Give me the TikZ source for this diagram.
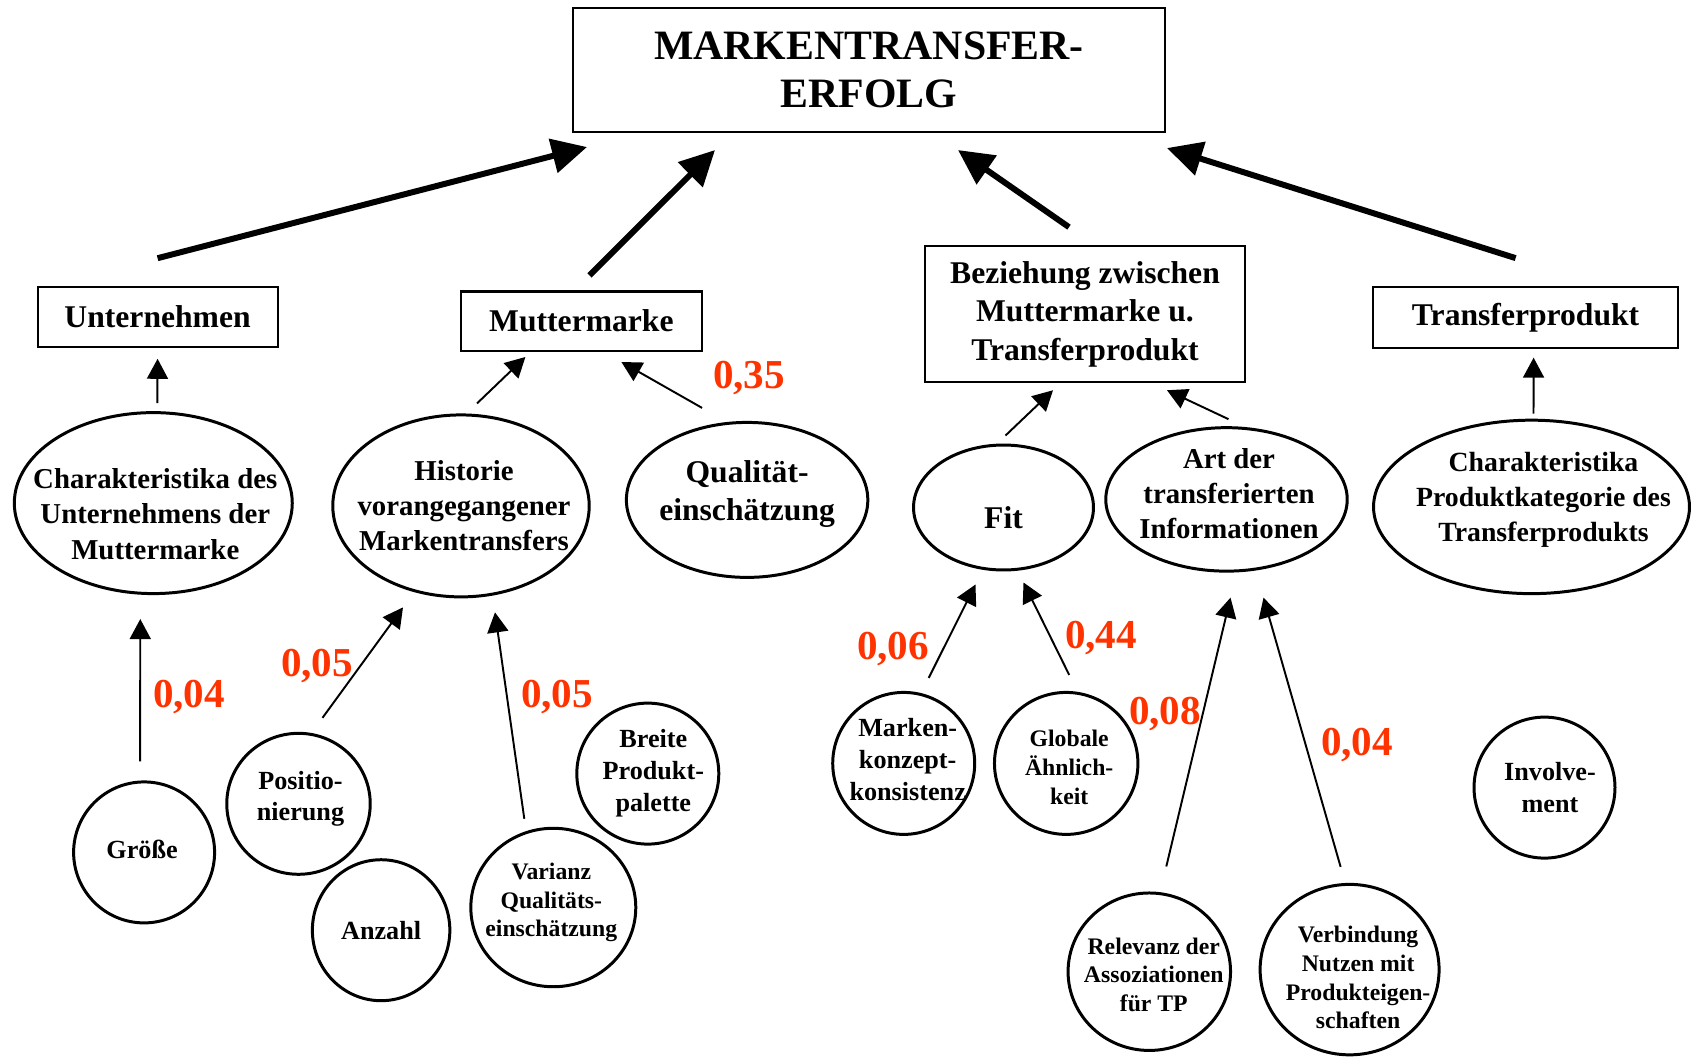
\documentclass[tikz,border=0pt]{standalone}
\usepackage{fontspec}
\setmainfont{Liberation Serif}
\usetikzlibrary{shapes.geometric,arrows.meta,calc}
\definecolor{coefred}{RGB}{255,51,0}
\newcommand{\lbltitle}{\fontsize{23.8}{27.6}\selectfont\bfseries}
\newcommand{\lblbox}{\fontsize{18}{22}\selectfont\bfseries}
\newcommand{\lblbig}{\fontsize{18}{21.4}\selectfont\bfseries}
\newcommand{\lblmid}{\fontsize{16.4}{20}\selectfont\bfseries}
\newcommand{\lblsmall}{\fontsize{14.9}{18.2}\selectfont\bfseries}
\newcommand{\lbltiny}{\fontsize{13.5}{16.3}\selectfont\bfseries}
\newcommand{\lblcoef}{\fontsize{23.4}{28}\selectfont\bfseries}

\begin{document}
\begin{tikzpicture}[x=0.02cm,y=-0.02cm,
  box/.style={draw,line width=1.2pt,inner sep=0pt,align=center,font=\lblbox},
  ell/.style={ellipse,draw,line width=1.7pt,inner sep=0pt},
  every label/.style={align=center,inner sep=0pt},
  bigarrow/.style={-{Triangle[length=0.7cm,width=0.68cm]},line width=3.4pt},
  thinarrow/.style={-{Triangle[length=0.4cm,width=0.42cm]},line width=1.1pt},
  coef/.style={text=coefred,font=\lblcoef}]
\useasboundingbox (0,0) rectangle (1693,1058);

\node[box,font=\lbltitle,minimum width=11.84cm,minimum height=2.48cm] (title) at (869,70) {MARKENTRANSFER-\\ERFOLG};

\node[box,minimum width=4.8cm,minimum height=1.19cm] (unt) at (157.6,317) {Unternehmen};
\node[box,minimum width=4.82cm,minimum height=1.19cm] (mut) at (581.4,321.2) {Muttermarke};
\node[box,minimum width=6.39cm,minimum height=2.72cm] (bez) at (1085,314.2) {Beziehung zwischen\\Muttermarke u.\\Transferprodukt};
\node[box,minimum width=6.09cm,minimum height=1.21cm] (tp) at (1525.6,317.4) {Transferprodukt};

\node[ell,minimum width=5.56cm,minimum height=3.62cm,label={[xshift=0.04cm,yshift=-0.22cm,font=\lblmid]center:{Charakteristika des\\Unternehmens der\\Muttermarke}}] (cu) at (153.3,503.1) {};
\node[ell,minimum width=5.13cm,minimum height=3.64cm,label={[xshift=0.06cm,font=\lblmid]center:{Historie\\vorangegangener\\Markentransfers}}] (hist) at (461,505.9) {};
\node[ell,minimum width=4.83cm,minimum height=3.1cm,label={[yshift=0.12cm,font=\lblbig]center:{Qualit\"at-\\einsch\"atzung}}] (qual) at (747.1,499.9) {};
\node[ell,minimum width=3.6cm,minimum height=2.5cm,label={[yshift=-0.2cm,font=\lblbig]center:{Fit}}] (fit) at (1003.5,507.5) {};
\node[ell,minimum width=4.83cm,minimum height=2.87cm,label={[xshift=0.05cm,yshift=0.12cm,font=\lblmid]center:{Art der\\transferierten\\Informationen}}] (art) at (1226.5,499.4) {};
\node[ell,minimum width=6.32cm,minimum height=3.47cm,label={[xshift=0.24cm,yshift=0.14cm,font=\fontsize{15.8}{20}\selectfont\bfseries]center:{Charakteristika\\Produktkategorie des\\Transferprodukts}}] (cp) at (1531.5,506.9) {};

\node[ell,minimum width=2.82cm,minimum height=2.82cm,label={[xshift=-0.04cm,yshift=0.06cm,font=\lblsmall]center:{Gr\"o\ss e}}] (groe) at (144.1,852.4) {};
\node[ell,minimum width=2.87cm,minimum height=2.82cm,label={[xshift=0.04cm,yshift=0.1cm,font=\lblsmall]center:{Positio-\\nierung}}] (pos) at (298.5,803.8) {};
\node[ell,minimum width=2.75cm,minimum height=2.82cm,label={[font=\lblsmall]center:{Anzahl}}] (anz) at (381.1,930.2) {};
\node[ell,minimum width=3.3cm,minimum height=3.17cm,label={[xshift=-0.04cm,yshift=0.1cm,font=\lbltiny]center:{Varianz\\Qualit\"ats-\\einsch\"atzung}}] (var) at (553.3,907.5) {};
\node[ell,minimum width=2.84cm,minimum height=2.82cm,label={[xshift=0.11cm,font=\lblsmall]center:{Breite\\Produkt-\\palette}}] (breite) at (647.8,773.6) {};
\node[ell,minimum width=2.84cm,minimum height=2.84cm,label={[xshift=0.08cm,yshift=0.08cm,font=\lblsmall]center:{Marken-\\konzept-\\konsistenz}}] (mkk) at (903.7,763.4) {};
\node[ell,minimum width=2.87cm,minimum height=2.84cm,label={[xshift=0.06cm,yshift=-0.08cm,font=\lbltiny]center:{Globale\\\"Ahnlich-\\keit}}] (glob) at (1066.2,763.4) {};
\node[ell,minimum width=3.25cm,minimum height=3.15cm,label={[xshift=0.09cm,yshift=-0.06cm,font=\lbltiny]center:{Relevanz der\\Assoziationen\\f\"ur TP}}] (rel) at (1149.3,971.7) {};
\node[ell,minimum width=3.58cm,minimum height=3.41cm,label={[xshift=0.17cm,yshift=-0.16cm,font=\lbltiny]center:{Verbindung\\Nutzen mit\\Produkteigen-\\schaften}}] (verb) at (1349.6,969.6) {};
\node[ell,minimum width=2.82cm,minimum height=2.82cm,label={[xshift=0.11cm,font=\lblsmall]center:{Involve-\\ment}}] (inv) at (1544.5,787.6) {};

\draw[bigarrow] ($(unt.north)+(0,-28)$) -- ($(title.south west)+(15,14)$);
\draw[bigarrow] ($(mut.north)+(8,-15)$) -- ($(title.south west)+(143,17)$);
\draw[bigarrow] ($(bez.north)+(-16,-18)$) -- ($(title.south)+(89,17)$);
\draw[bigarrow] ($(tp.north)+(-10,-28)$) -- ($(title.south east)+(1,15)$);

\draw[thinarrow] ($(cu.north)+(4,-8)$) -- ($(unt.south)+(0,11)$);
\draw[thinarrow] ($(hist.north)+(16,-10)$) -- ($(mut.south)+(-56,5)$);
\draw[thinarrow] ($(qual.north)+(-45,-13)$) -- ($(mut.south)+(40,10)$);
\draw[thinarrow] ($(fit.north)+(2,-8)$) -- ($(bez.south)+(-32,7)$);
\draw[thinarrow] ($(art.north)+(2,-7)$) -- ($(bez.south)+(82,7)$);
\draw[thinarrow] ($(cp.north)+(2,-5)$) -- ($(tp.south)+(8,9)$);
\draw[thinarrow] ($(groe.north)+(-4,-19)$) -- ($(cu.south)+(-13,24)$);
\draw[thinarrow] ($(pos.north)+(24,-14)$) -- ($(hist.south)+(-58,9)$);
\draw[thinarrow] ($(var.north)+(-29,-8)$) -- ($(hist.south)+(34,14)$);
\draw[thinarrow] ($(mkk.north)+(25,-13)$) -- ($(fit.south)+(-28,13)$);
\draw[thinarrow] ($(glob.north)+(3,-16)$) -- ($(fit.south)+(20,11)$);
\draw[thinarrow] ($(rel.north)+(17,-25)$) -- ($(art.south)+(4,25)$);
\draw[thinarrow] ($(verb.north)+(-9,-16)$) -- ($(art.south)+(37,25)$);

\node[coef] (k1) at (749,378) {0,35};
\node[coef] (k2) at (189,697) {0,04};
\node[coef] (k3) at (317,666) {0,05};
\node[coef] (k4) at (557,697) {0,05};
\node[coef] (k5) at (893,649) {0,06};
\node[coef] (k6) at (1101,638) {0,44};
\node[coef] (k7) at (1165,714) {0,08};
\node[coef] (k8) at (1357,745) {0,04};
\end{tikzpicture}
\end{document}
